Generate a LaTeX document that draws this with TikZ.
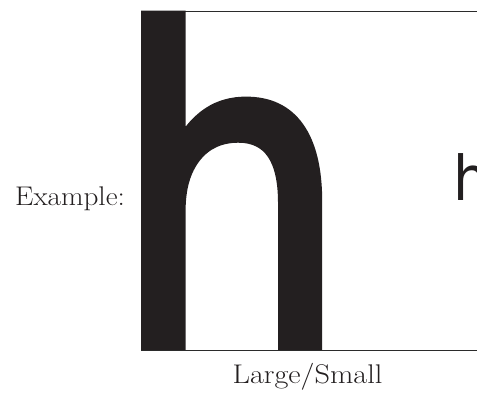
\documentclass[tikz,border=0pt]{standalone}
\usepackage{fontspec}
\newfontfamily\hfont[FakeBold=2.9]{DejaVu Sans}
\newfontfamily\hsmallfont{DejaVu Sans}
\definecolor{ink}{HTML}{231F20}
\definecolor{rule}{HTML}{2B2B2B}
\begin{document}
\begin{tikzpicture}[x=1pt,y=-1pt,
  txt/.style={inner sep=0pt, text=ink, font=\fontsize{27}{27}\selectfont},
  glyph/.style={inner sep=0pt, text=ink, anchor=base west},
  frame/.style={draw=rule, line width=1pt}]
\useasboundingbox (0,0) rectangle (477,392);
\clip (0,0) rectangle (477,392);
\coordinate (tl) at (141,11);
\coordinate (tr) at (495,11);
\coordinate (bl) at (141,350);
\coordinate (br) at (495,350);
\draw[frame] (tl) -- (tr);
\draw[frame] (bl) -- (br);
\node[glyph, xscale=0.89, yscale=1.03, font=\hfont\fontsize{417.5}{417.5}\selectfont] (big) at (112.7,343.7) {h};
\node[glyph, xscale=0.9, font=\hsmallfont\fontsize{61.8}{61.8}\selectfont] (small) at (453.7,200) {h};
\node[txt, anchor=base west, xscale=1.08] (ex) at (15,205) {Example:};
\node[txt, anchor=base, xscale=1.12] (ls) at (307.5,383) {Large/Small};
\end{tikzpicture}
\end{document}
